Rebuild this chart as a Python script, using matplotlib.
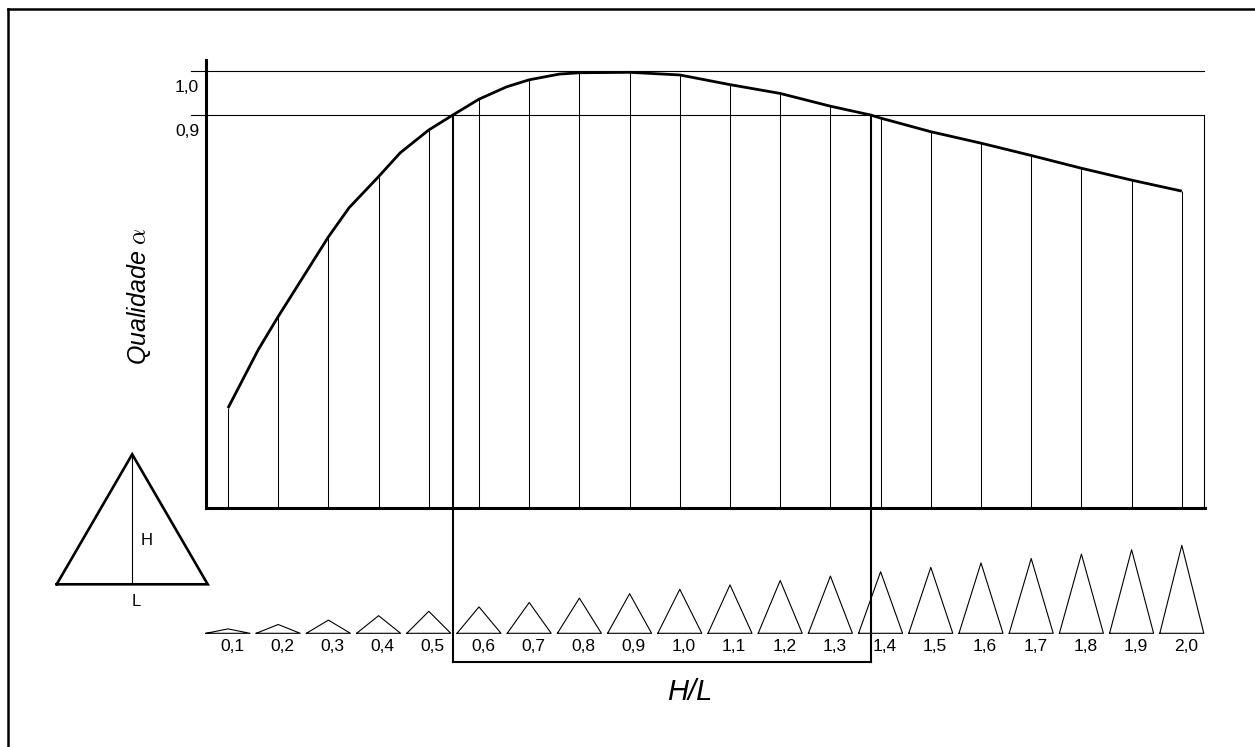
import numpy as np
import matplotlib
matplotlib.use("Agg")
import matplotlib.pyplot as plt
from matplotlib.lines import Line2D

plt.rcParams["font.family"] = ["Liberation Sans", "DejaVu Sans"]
plt.rcParams["mathtext.fontset"] = "cm"

# Slenderness ratio H/L of the triangular section
hl = [0.1, 0.2, 0.3, 0.4, 0.5, 0.6, 0.7, 0.8, 0.9, 1.0,
      1.1, 1.2, 1.3, 1.4, 1.5, 1.6, 1.7, 1.8, 1.9, 2.0]
# Quality alpha at each ratio
quality = [0.234, 0.442, 0.623, 0.760, 0.866, 0.936, 0.980, 0.996, 0.997, 0.991,
           0.969, 0.949, 0.920, 0.893, 0.862, 0.836, 0.808, 0.779, 0.752, 0.727]
# Additional vertices of the quality curve between the ratio stations
curve_extra_hl = [0.16, 0.341, 0.443, 0.548, 0.655, 0.76, 1.38]
curve_extra_q = [0.366, 0.689, 0.814, 0.900, 0.964, 0.993, 0.900]

tick_labels = ["0,1", "0,2", "0,3", "0,4", "0,5", "0,6", "0,7", "0,8", "0,9", "1,0",
               "1,1", "1,2", "1,3", "1,4", "1,5", "1,6", "1,7", "1,8", "1,9", "2,0"]

ref_levels = [1.0, 0.9]
ref_labels = ["1,0", "0,9"]
optimal_range = (0.548, 1.38)   # ratios where quality >= 0.9

W, H = 1255, 747
fig = plt.figure(figsize=(W / 100, H / 100), dpi=100)


def fx(px):
    return px / W


def fy(py):
    return 1 - py / H


# ---- main chart -------------------------------------------------------
x0, x1 = 206, 1205
y0, y1 = 508, 60
ax = fig.add_axes([fx(x0), fy(y0), fx(x1) - fx(x0), fy(y1) - fy(y0)])
xlim = (0.05618, 2.0462)
ylim = (0.00682, 1.025)
ax.set_xlim(*xlim)
ax.set_ylim(*ylim)
for s in ["top", "right"]:
    ax.spines[s].set_visible(False)
for s in ["left", "bottom"]:
    ax.spines[s].set_linewidth(2.2)
ax.set_xticks([])
ax.set_yticks([])
ax.patch.set_alpha(0)

# reference lines for quality 1.0 and 0.9
ref_x0, ref_x1 = 0.0263, 2.044
for lvl in ref_levels:
    ax.plot([ref_x0, ref_x1], [lvl, lvl], color="black", lw=0.8, clip_on=False)
ax.plot([ref_x1, ref_x1], [ref_levels[1], ylim[0]], color="black", lw=0.8, clip_on=False)

for lvl, lab in zip(ref_levels, ref_labels):
    ax.annotate(lab, xy=(xlim[0], lvl), xytext=(-19, -16), textcoords="offset pixels",
                ha="center", va="center", fontsize=12.5)

# stations
ax.vlines(hl, ylim[0], quality, color="black", lw=0.75)

# quality curve
curve = sorted(zip(hl + curve_extra_hl, quality + curve_extra_q))
ax.plot([c[0] for c in curve], [c[1] for c in curve], color="black", lw=2.0,
        solid_joinstyle="round", solid_capstyle="butt")

# optimal range box
box_bottom = -0.343
for xb in optimal_range:
    ax.plot([xb, xb], [0.9, box_bottom], color="black", lw=1.5, clip_on=False)
ax.plot(list(optimal_range), [box_bottom, box_bottom], color="black", lw=1.5,
        clip_on=False)

# ---- triangle shapes below the axis ---------------------------------------
tax = fig.add_axes([fx(x0), fy(700), fx(x1) - fx(x0), fy(520) - fy(700)])
tax.set_xlim(*xlim)
tax.set_ylim(-66.7 / 502, 113.3 / 502)
tax.axis("off")
base_w = 44 / 502
for r, lab in zip(hl, tick_labels):
    tx = [r - base_w / 2, r, r + base_w / 2, r - base_w / 2]
    ty = [0, r * base_w, 0, 0]
    tax.plot(tx, ty, color="black", lw=0.8, clip_on=False)
    tax.text(r + 0.008, -0.0253, lab, ha="center", va="center", fontsize=12.5)

# ---- schematic triangle ---------------------------------------------------
sax = fig.add_axes([fx(56.7), fy(584.3), fx(207.7) - fx(56.7), fy(454.3) - fy(584.3)])
sax.set_xlim(0, 1)
sax.set_ylim(0, np.sqrt(3) / 2)
sax.axis("off")
sax.plot([0, 0.5, 1, 0], [0, np.sqrt(3) / 2, 0, 0], color="black", lw=1.9,
         clip_on=False, solid_joinstyle="miter")
sax.plot([0.5, 0.5], [0, np.sqrt(3) / 2], color="black", lw=0.8, clip_on=False)
sax.text(0.595, 0.293, "H", ha="center", va="center", fontsize=12)
sax.text(0.53, -0.115, "L", ha="center", va="center", fontsize=12)

# ---- axis titles --------------------------------------------------------
fig.text(fx(690), fy(692), "H/L", ha="center", va="center", fontsize=21,
         style="italic")
fig.text(fx(139), fy(296), r"Qualidade $\alpha$", ha="center", va="center",
         fontsize=18, style="italic", rotation=90)

# ---- frame ----------------------------------------------------------------
fig.add_artist(Line2D([fx(8), fx(8)], [fy(9), 0], color="black", lw=1.8))
fig.add_artist(Line2D([fx(8), 1], [fy(9), fy(9)], color="black", lw=1.8))

fig.savefig("out.png", dpi=100, facecolor="white")
